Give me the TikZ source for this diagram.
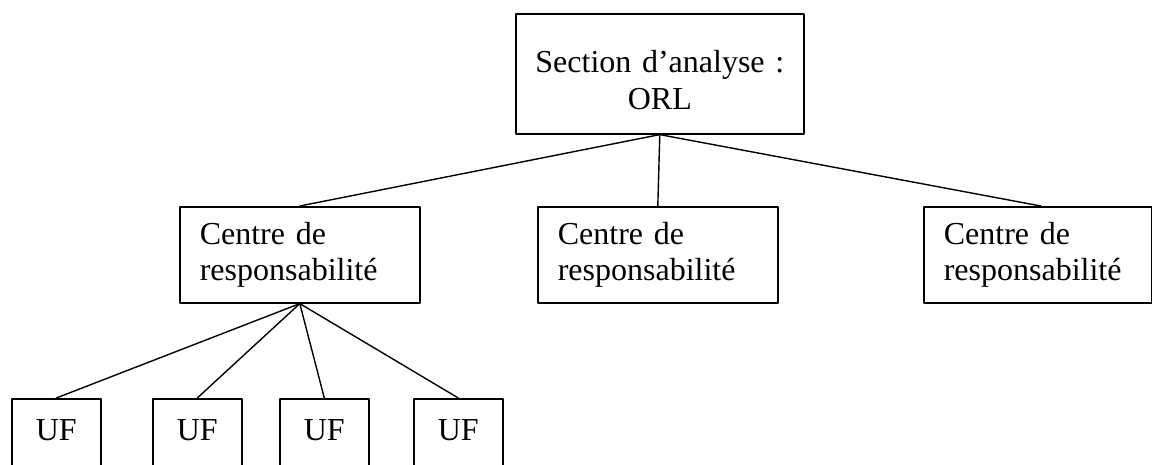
\documentclass[tikz,border=0pt]{standalone}
\usepackage{fontspec}
\setmainfont{Liberation Serif}

\begin{document}
\begin{tikzpicture}[x=1pt,y=-1pt,line cap=round,line join=round,
  box/.style={draw,line width=1.6pt,inner sep=0pt,anchor=north west,font=\fontsize{32}{36.8}\selectfont},
  crbox/.style={box,minimum width=240pt,minimum height=96pt,text width=200pt,align=left},
  ufbox/.style={box,minimum width=89pt,minimum height=80pt,text depth=17pt,align=center},
  link/.style={line width=1.4pt}]
\useasboundingbox (0,0) rectangle (1152,464);
\clip (0,0) rectangle (1152,464);
% top level
\node[box,minimum width=288pt,minimum height=120pt,text width=280pt,align=center,text depth=25pt] (section) at (515,13) {Section d’analyse :\\ORL};
% centres de responsabilite
\node[crbox] (crA) at (179,206) {Centre de\\responsabilité};
\node[crbox] (crB) at (537,206) {Centre de\\responsabilité};
\node[crbox,minimum width=228pt,text width=188pt] (crC) at (923,206) {Centre de\\responsabilité};
% unites fonctionnelles
\node[ufbox] (ufA) at (11,398) {UF};
\node[ufbox] (ufB) at (152,398) {UF};
\node[ufbox] (ufC) at (279,398) {UF};
\node[ufbox] (ufD) at (413,398) {UF};
\draw[link] (section.south) -- (crA.north);
\draw[link] (section.south) -- (crB.north);
\draw[link] (section.south) -- ([xshift=3pt]crC.north);
\draw[link] (crA.south) -- (ufA.north);
\draw[link] (crA.south) -- (ufB.north);
\draw[link] (crA.south) -- (ufC.north);
\draw[link] (crA.south) -- (ufD.north);
\end{tikzpicture}
\end{document}
